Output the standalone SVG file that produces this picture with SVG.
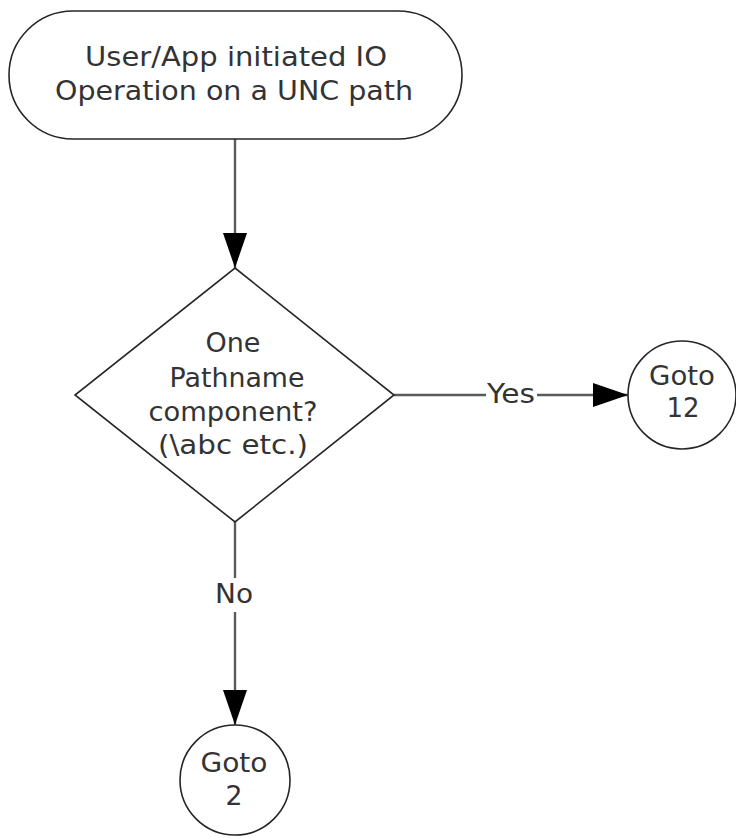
<svg xmlns="http://www.w3.org/2000/svg" width="736" height="838" viewBox="0 0 736 838">
<style>
.shape{fill:#ffffff;stroke:#262626;stroke-width:1.6}
.edge{fill:none;stroke:#5a5a5a;stroke-width:2.4}
text{font-family:"DejaVu Sans",Verdana,sans-serif;font-size:26px;fill:#333333;text-anchor:middle}
.lbl{fill:#ffffff;stroke:none}
</style>
<defs>
<marker id="arrowL" viewBox="0 0 35 24" refX="35" refY="12" markerWidth="35" markerHeight="24" markerUnits="userSpaceOnUse" orient="auto">
<path d="M0,0 L35,12 L0,24 Z" fill="#000000"/>
</marker>
</defs>
<g id="connectors">
<line class="edge" x1="235" y1="139" x2="235" y2="268" marker-end="url(#arrowL)"/>
<line class="edge" x1="394" y1="395" x2="628" y2="395" marker-end="url(#arrowL)"/>
<line class="edge" x1="235" y1="522" x2="235" y2="725" marker-end="url(#arrowL)"/>
<rect class="lbl" x="486" y="380" width="51" height="28"/>
<text x="511" y="403" textLength="48" lengthAdjust="spacingAndGlyphs">Yes</text>
<rect class="lbl" x="213" y="578" width="44" height="34"/>
<text x="234" y="603" textLength="38" lengthAdjust="spacingAndGlyphs">No</text>
</g>
<g id="start">
<rect class="shape" x="9" y="11" width="453" height="128" rx="64" ry="64"/>
<text x="236" y="66" textLength="302" lengthAdjust="spacingAndGlyphs">User/App initiated IO</text>
<text x="234" y="100" textLength="358" lengthAdjust="spacingAndGlyphs">Operation on a UNC path</text>
</g>
<g id="decision">
<polygon class="shape" points="235,268 394,395 235,522 75,395"/>
<text x="233" y="352" textLength="55" lengthAdjust="spacingAndGlyphs">One</text>
<text x="237" y="387" textLength="135" lengthAdjust="spacingAndGlyphs">Pathname</text>
<text x="233" y="421" textLength="169" lengthAdjust="spacingAndGlyphs">component?</text>
<text x="233" y="454" textLength="150" lengthAdjust="spacingAndGlyphs">(\abc etc.)</text>
</g>
<g id="goto12">
<circle class="shape" cx="682" cy="395" r="54"/>
<text x="682" y="385" textLength="66" lengthAdjust="spacingAndGlyphs">Goto</text>
<text x="683" y="417" textLength="33" lengthAdjust="spacingAndGlyphs">12</text>
</g>
<g id="goto2">
<circle class="shape" cx="235" cy="780" r="55"/>
<text x="234" y="772" textLength="67" lengthAdjust="spacingAndGlyphs">Goto</text>
<text x="234" y="805" textLength="17" lengthAdjust="spacingAndGlyphs">2</text>
</g>
</svg>
